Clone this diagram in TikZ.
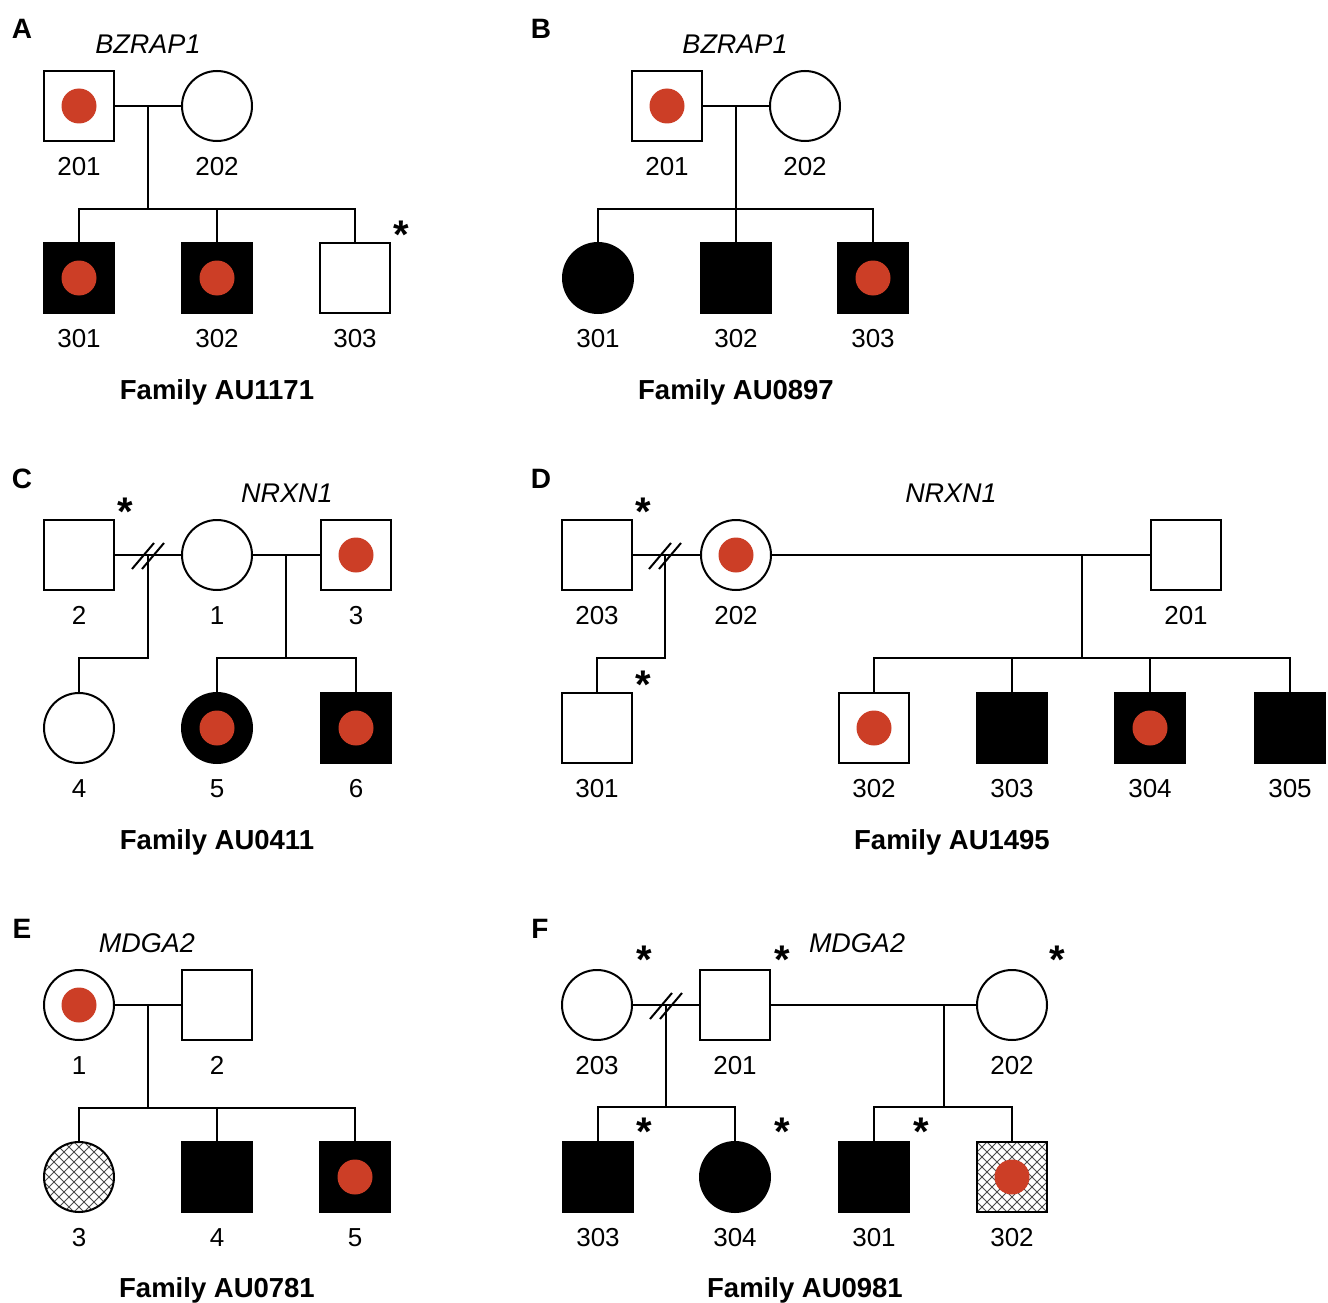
\documentclass[tikz,border=0pt]{standalone}
\usepackage{fontspec}
\setmainfont{Liberation Sans}
\usetikzlibrary{calc}
\definecolor{carrier}{RGB}{204,62,38}
\tikzset{
  x=1pt, y=-1pt,
  ind/.style={draw=black, line width=2pt, minimum size=70pt, inner sep=0pt, outer sep=0pt, fill=white},
  male/.style={ind, rectangle},
  female/.style={ind, circle},
  aff/.style={fill=black},
  hatched/.style={path picture={
      \foreach \k in {-100,-90,...,100}{
        \draw[line width=0.8pt, black!70] ([shift={(\k-60,-60)}]path picture bounding box.center) -- ++(120,120);
        \draw[line width=0.8pt, black!70] ([shift={(\k-60,60)}]path picture bounding box.center) -- ++(120,-120);
      }}},
  idlab/.style={font=\fontsize{26}{30}\selectfont, text height=18.7pt, text depth=0pt, inner sep=0pt},
  gene/.style={font=\fontsize{27}{30}\selectfont\itshape, text height=19.4pt, text depth=0pt, inner sep=0pt},
  famlab/.style={font=\fontsize{27.5}{30}\selectfont\bfseries, text height=19.8pt, text depth=0pt, inner sep=0pt},
  panel/.style={font=\fontsize{28}{30}\selectfont\bfseries, text height=20.2pt, text depth=0pt, inner sep=0pt},
  star/.style={font=\fontsize{40}{40}\selectfont\bfseries, inner sep=0pt, anchor=base},
  link/.style={line width=2pt, line cap=rect},
}
\newcommand\pers[5]{\node[#4] (#1) at (#2,#3) {}; \node[idlab] (#1l) at (#2,#3+60) {#5};}
\newcommand\cardot[1]{\fill[carrier] (#1) circle (17.5pt);}
\newcommand\dslash[1]{\draw[link, line cap=butt] ([shift={(-16,14)}]#1) -- ++(22,-26); \draw[link, line cap=butt] ([shift={(-6,14)}]#1) -- ++(22,-26);}
\begin{document}
\begin{tikzpicture}
\fill[white] (0,0) rectangle (1328,1303);
\useasboundingbox (0,0) rectangle (1328,1303);

% ---------------- Panel A
\node[panel] (pA) at (22,28) {A};
\node[gene] (gA) at (148,44) {BZRAP1};
\pers{a201}{79}{106}{male}{201}
\pers{a202}{217}{106}{female}{202}
\pers{a301}{79}{278}{male,aff}{301}
\pers{a302}{217}{278}{male,aff}{302}
\pers{a303}{355}{278}{male}{303}
\cardot{a201}\cardot{a301}\cardot{a302}
\node[star] (sA1) at (401,248) {*};
\draw[link] (a201.east) -- (a202.west);
\coordinate (mA) at (148,106);
\coordinate (sbA) at (148,209);
\draw[link] (mA) -- (sbA);
\draw[link] (a301.north) |- (sbA) -| (a303.north);
\draw[link] (a302.north) -- (a302.north |- sbA);
\node[famlab] (fA) at (217,390) {Family AU1171};

% ---------------- Panel B
\node[panel] (pB) at (541,28) {B};
\node[gene] (gB) at (735,44) {BZRAP1};
\pers{b201}{667}{106}{male}{201}
\pers{b202}{805}{106}{female}{202}
\pers{b301}{598}{278}{female,aff}{301}
\pers{b302}{736}{278}{male,aff}{302}
\pers{b303}{873}{278}{male,aff}{303}
\cardot{b201}\cardot{b303}
\draw[link] (b201.east) -- (b202.west);
\coordinate (mB) at (736,106);
\coordinate (sbB) at (736,209);
\draw[link] (mB) -- (b302.north);
\draw[link] (b301.north) |- (sbB) -| (b303.north);
\node[famlab] (fB) at (736,390) {Family AU0897};

% ---------------- Panel C
\node[panel] (pC) at (22,478) {C};
\node[gene] (gC) at (287,493) {NRXN1};
\pers{c2}{79}{555}{male}{2}
\pers{c1}{217}{555}{female}{1}
\pers{c3}{356}{555}{male}{3}
\pers{c4}{79}{728}{female}{4}
\pers{c5}{217}{728}{female,aff}{5}
\pers{c6}{356}{728}{male,aff}{6}
\cardot{c3}\cardot{c5}\cardot{c6}
\node[star] (sC1) at (125,525) {*};
\draw[link] (c2.east) -- (c1.west);
\coordinate (mC1) at (148,555);
\dslash{mC1}
\coordinate (sbC1) at (148,658);
\draw[link] (mC1) -- (sbC1) -| (c4.north);
\draw[link] (c1.east) -- (c3.west);
\coordinate (mC2) at (286,555);
\coordinate (sbC2) at (286,658);
\draw[link] (mC2) -- (sbC2);
\draw[link] (c5.north) |- (sbC2) -| (c6.north);
\node[famlab] (fC) at (217,840) {Family AU0411};

% ---------------- Panel D
\node[panel] (pD) at (541,478) {D};
\node[gene] (gD) at (951,493) {NRXN1};
\pers{d203}{597}{555}{male}{203}
\pers{d202}{736}{555}{female}{202}
\pers{d201}{1186}{555}{male}{201}
\pers{d301}{597}{728}{male}{301}
\pers{d302}{874}{728}{male}{302}
\pers{d303}{1012}{728}{male,aff}{303}
\pers{d304}{1150}{728}{male,aff}{304}
\pers{d305}{1290}{728}{male,aff}{305}
\cardot{d202}\cardot{d302}\cardot{d304}
\node[star] (sD1) at (643,525) {*};
\node[star] (sD2) at (643,698) {*};
\draw[link] (d203.east) -- (d202.west);
\coordinate (mD1) at (665,555);
\dslash{mD1}
\coordinate (sbD1) at (665,658);
\draw[link] (mD1) -- (sbD1) -| (d301.north);
\draw[link] (d202.east) -- (d201.west);
\coordinate (mD2) at (1082,555);
\coordinate (sbD2) at (1082,658);
\draw[link] (mD2) -- (sbD2);
\draw[link] (d302.north) |- (sbD2) -| (d305.north);
\draw[link] (d303.north) -- (d303.north |- sbD2);
\draw[link] (d304.north) -- (d304.north |- sbD2);
\node[famlab] (fD) at (952,840) {Family AU1495};

% ---------------- Panel E
\node[panel] (pE) at (22,928) {E};
\node[gene] (gE) at (147,943) {MDGA2};
\pers{e1}{79}{1005}{female}{1}
\pers{e2}{217}{1005}{male}{2}
\pers{e3}{79}{1177}{female,hatched}{3}
\pers{e4}{217}{1177}{male,aff}{4}
\pers{e5}{355}{1177}{male,aff}{5}
\cardot{e1}\cardot{e5}
\draw[link] (e1.east) -- (e2.west);
\coordinate (mE) at (148,1005);
\coordinate (sbE) at (148,1108);
\draw[link] (mE) -- (sbE);
\draw[link] (e3.north) |- (sbE) -| (e5.north);
\draw[link] (e4.north) -- (e4.north |- sbE);
\node[famlab] (fE) at (217,1288) {Family AU0781};

% ---------------- Panel F
\node[panel] (pF) at (540,928) {F};
\node[gene] (gF) at (857,943) {MDGA2};
\pers{f203}{597}{1005}{female}{203}
\pers{f201}{735}{1005}{male}{201}
\pers{f202}{1012}{1005}{female}{202}
\pers{f303}{598}{1177}{male,aff}{303}
\pers{f304}{735}{1177}{female,aff}{304}
\pers{f301}{874}{1177}{male,aff}{301}
\pers{f302}{1012}{1177}{male,hatched}{302}
\cardot{f302}
\node[star] (sF1) at (644,973) {*};
\node[star] (sF2) at (782,973) {*};
\node[star] (sF3) at (1057,973) {*};
\node[star] (sF4) at (644,1145) {*};
\node[star] (sF5) at (782,1145) {*};
\node[star] (sF6) at (921,1145) {*};
\draw[link] (f203.east) -- (f201.west);
\coordinate (mF1) at (666,1005);
\dslash{mF1}
\coordinate (sbF1) at (666,1107);
\draw[link] (mF1) -- (sbF1);
\draw[link] (f303.north) |- (sbF1) -| (f304.north);
\draw[link] (f201.east) -- (f202.west);
\coordinate (mF2) at (944,1005);
\coordinate (sbF2) at (944,1107);
\draw[link] (mF2) -- (sbF2);
\draw[link] (f301.north) |- (sbF2) -| (f302.north);
\node[famlab] (fF) at (805,1288) {Family AU0981};
\end{tikzpicture}
\end{document}
